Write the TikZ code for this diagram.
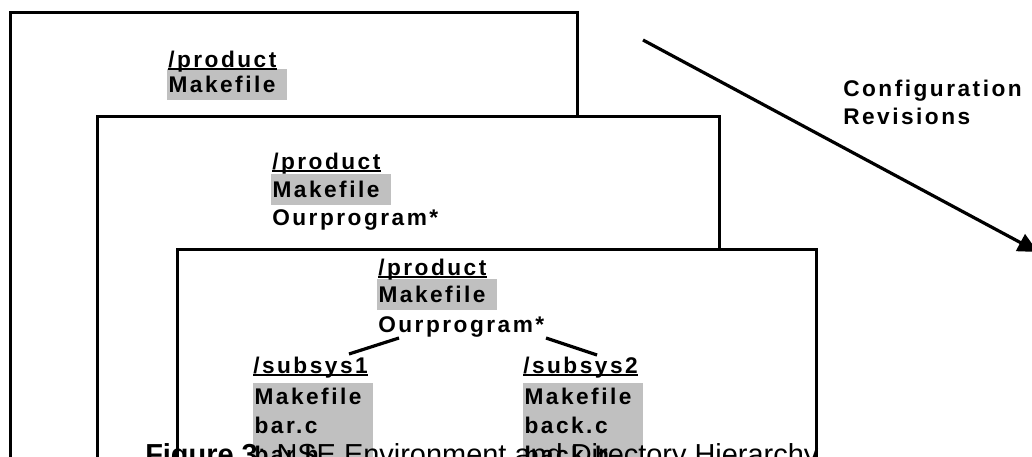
\documentclass[tikz,border=0pt]{standalone}
\usepackage{fontspec}
\setmainfont{Liberation Sans}
\newfontfamily\labelfont{Liberation Sans}[LetterSpace=11]
\usetikzlibrary{arrows.meta}
\definecolor{silver}{RGB}{192,192,192}

\begin{document}
\begin{tikzpicture}[
      x=0.75pt, y=-0.75pt,
      item/.style={font=\labelfont\bfseries\fontsize{17}{21}\selectfont,
                   inner sep=0pt, anchor=base west, text=black},
      hlitem/.style={item, fill=silver, inner xsep=1pt,
                     text height=17.25pt, text depth=6pt, text width=88pt},
      colitem/.style={hlitem, text height=15.75pt, text depth=6pt},
      panel/.style={draw, line width=2.25pt, fill=white},
      link/.style={line width=2.4pt},
      uline/.style={line width=1.5pt}
    ]
      \useasboundingbox (0,0) rectangle (1032,457);
      \clip (0,0) rectangle (1032,457);
      % three stacked revisions
      \draw[panel] (10,12) rectangle (577,500);
      \draw[panel] (97,116) rectangle (719,500);
      \draw[panel] (177,249) rectangle (816,500);

      % revision 1
      \node[hlitem] (p1make) at (167,92) {Makefile};
      \node[item] (p1dir) at (168,67) {/product};
      % revision 2
      \node[hlitem] (p2make) at (271,197) {Makefile};
      \node[item] (p2dir) at (272,169) {/product};
      \node[item] (p2prog) at (272,225) {Ourprogram*};
      % revision 3
      \node[hlitem] (p3make) at (377,302) {Makefile};
      \node[item] (p3dir) at (378,275) {/product};
      \node[item] (p3prog) at (378,332) {Ourprogram*};
      \node[item] (s1dir) at (253,373) {/subsys1};
      \node[item] (s2dir) at (523,373) {/subsys2};
      \foreach \nm/\x/\files in {s1/253/{Makefile,bar.c,bar.h},
                                 s2/523/{Makefile,back.c,back.h}} {
        \foreach \f [count=\k] in \files {
          \pgfmathsetmacro{\yy}{375+29*\k}
          \node[colitem] (\nm file\k) at (\x,\yy) {\f};
        }
      }
      \foreach \d in {p1dir,p2dir,p3dir,s1dir,s2dir} {
        \draw[uline] ([yshift=-1.6pt]\d.base west) -- ([yshift=-1.6pt]\d.base east);
      }
      \draw[link] ([xshift=15.75pt,yshift=-4.5pt]p3prog.base west)
                  -- ([xshift=72pt,yshift=14.25pt]s1dir.base west);
      \draw[link] ([xshift=126pt,yshift=-4.5pt]p3prog.base west)
                  -- ([xshift=55.5pt,yshift=13.5pt]s2dir.base west);

      % revision arrow
      \coordinate (revstart) at (643,40);
      \coordinate (revend) at (1038,252);
      \draw[link, -{Triangle[length=15pt,width=14pt]}] (revstart) -- (revend);
      \node[item] (conf) at (843,96) {Configuration};
      \node[item] (revs) at (843,124) {Revisions};

      % caption (cut by the page)
      \node[anchor=base west, inner sep=0pt, font=\fontsize{21.7}{26}\selectfont]
        (caption) at (145,464) {\textbf{Figure 3}: NSE Environment and Directory Hierarchy};
    \end{tikzpicture}
\end{document}
